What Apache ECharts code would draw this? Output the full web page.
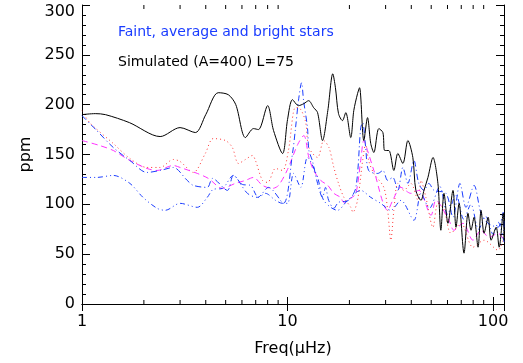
<!DOCTYPE html>
<html>
<head>
<meta charset="utf-8">
<script src="https://cdn.jsdelivr.net/npm/echarts@6/dist/echarts.min.js"></script>
<style>
  html, body { margin: 0; padding: 0; background: #fff; }
  #chart { width: 523px; height: 363px; }
</style>
</head>
<body>
<div id="chart"></div>
<script>
// minor tick positions on the log frequency axis
var minorX = [2, 3, 4, 5, 6, 7, 8, 9, 20, 30, 40, 50, 60, 70, 80, 90];

// [freq (uHz), ppm]
var simulated = [[1,190],[1.16,191],[1.3,190],[1.7,182],[2.4,168],[3.0,177],[3.56,172],[4.0,190],[4.6,212],[5.15,210],[5.6,200],[6.24,167],[6.83,176],[7.22,175],[8.0,199],[8.55,174],[9.46,151],[10.0,185],[10.57,205],[11.3,199],[12.0,201],[12.66,204],[13.4,197],[14.0,192],[14.8,164],[15.7,194],[16.6,231],[17.1,217],[17.7,191],[18.5,184],[19.2,192],[20.3,167],[21.0,194],[21.9,211],[22.4,217],[23.5,164],[24.5,187],[25.4,161],[26.3,152],[27.8,176],[29.1,172],[29.7,154],[31.1,154],[32.9,134],[34.4,151],[36.4,141],[38.5,164],[40.7,147],[42.1,114],[44.6,104],[46.1,114],[48.2,127],[51.0,147],[53.9,121],[55.7,74],[57.7,111],[60.3,81],[63.8,114],[66,77],[68.3,101],[72.2,51],[75.5,91],[78.1,74],[80.8,87],[84.5,57],[87.4,94],[90.4,71],[94.6,87],[97.8,64],[103.5,77],[107,57],[112,91],[113,64]];

var faint = [[1,127],[1.18,127],[1.42,129],[1.71,121],[1.98,107],[2.32,96],[2.54,94],[3.0,101],[3.64,97],[4.07,107],[4.35,115],[4.82,116],[5.45,129],[6.03,120],[6.6,119],[7.22,107],[7.81,111],[8.74,104],[9.46,101],[10,101],[10.7,131],[11.6,117],[12.5,147],[14,127],[15,104],[17.5,94],[19.6,104],[22.7,114],[25.4,107],[28.4,101],[31.8,94],[35.6,104],[41.2,84],[44.6,111],[49,96],[55,118],[60,90],[66,110],[72,85],[78,100],[85,75],[92,88],[100,70],[106,82],[113,62]];

var average = [[1,164],[1.22,159],[1.42,154],[1.71,144],[2.07,136],[2.32,134],[2.78,139],[3.0,137],[3.64,131],[4.12,126],[4.82,116],[5.57,121],[6.24,124],[6.83,127],[7.55,119],[8.45,116],[9.04,119],[10,135],[11.2,160],[12,169],[12.7,147],[13.4,134],[14.5,124],[15.7,119],[16.8,111],[18.1,107],[18.8,102],[20.3,106],[21.5,111],[22.7,144],[23.5,164],[24.5,154],[26.3,134],[30.7,94],[32.5,104],[35.6,117],[39.8,111],[43.5,114],[49.9,89],[52.7,104],[61,84],[64.5,74],[71.4,81],[79.8,64],[87.4,74],[95.6,67],[105.7,71],[113,64]];

var bright = [[1,189],[1.18,174],[1.42,157],[1.71,144],[2.07,132],[2.4,134],[2.78,137],[3.25,124],[3.48,119],[4.07,117],[4.31,126],[5.1,114],[5.45,129],[6.38,111],[7.14,107],[8.08,117],[9.55,101],[10.57,151],[10.94,177],[11.3,204],[11.7,222],[11.97,204],[12.5,177],[12.7,154],[13.2,144],[14,121],[14.8,107],[15.3,117],[15.85,104],[16.8,96],[17.7,102],[19.8,104],[21.5,117],[22.7,177],[23.2,182],[24,157],[24.8,134],[27.5,131],[29.1,134],[30.7,124],[32.5,127],[34.4,114],[36.4,137],[38.5,121],[41.2,144],[43.5,121],[46.1,114],[48.7,121],[51.6,114],[59,111],[63.8,87],[69,121],[73.8,97],[80.8,119],[87.4,91],[94.6,81],[105.7,77],[112,92],[113,70]];

var model = [[1,194],[1.09,182],[1.42,161],[1.71,146],[2.07,137],[2.4,137],[2.78,145],[3.0,143],[3.48,132],[3.98,151],[4.35,166],[4.99,164],[5.39,157],[5.77,141],[6.24,145],[6.75,149],[6.98,144],[7.55,124],[8.0,122],[8.74,136],[9.46,134],[10.1,154],[10.9,197],[11.3,197],[12.2,184],[12.7,157],[14,147],[15,164],[15.9,157],[16.8,137],[17.7,121],[18.8,107],[20.3,97],[20.8,92],[21.9,104],[23.2,144],[24,161],[24.8,144],[26.3,131],[29.4,117],[30.7,94],[31.8,64],[32.9,94],[34.4,121],[36.8,114],[39.8,121],[43.1,104],[44.6,124],[47.1,107],[51,77],[53.9,101],[57.7,95],[62.4,71],[69.8,81],[79.8,57],[90.4,64],[105.7,54],[113,67]];

var font = 'DejaVu Sans';
var chart = echarts.init(document.getElementById('chart'));

function xAx(pos, labels) {
  return {
    type: 'log', logBase: 10, min: 1, max: 113, position: pos,
    axisLine: { show: true, lineStyle: { color: '#000', width: 1 } },
    axisTick: { show: true, inside: true, length: 7, lineStyle: { color: '#000' } },
    splitLine: { show: false },
    axisLabel: { show: labels, color: '#000', fontFamily: font, fontSize: 16, margin: 10, showMaxLabel: false },
    name: labels ? 'Freq(\u03bcHz)' : '', nameLocation: 'middle', nameGap: 37,
    nameTextStyle: { color: '#000', fontFamily: font, fontSize: 16 }
  };
}
function yAx(pos, labels) {
  return {
    type: 'value', min: 0, max: 300, interval: 50, position: pos,
    axisLine: { show: true, lineStyle: { color: '#000', width: 1 } },
    axisTick: { show: true, inside: true, length: 8, lineStyle: { color: '#000' } },
    minorTick: { show: true, splitNumber: 5, length: 4, lineStyle: { color: '#000' } },
    splitLine: { show: false },
    axisLabel: {
      show: labels, color: '#000', fontFamily: font, fontSize: 16, margin: 7,
      formatter: function (v) { return v === 300 ? '{t|300}' : String(v); },
      rich: { t: { fontFamily: font, fontSize: 16, color: '#000', padding: [14, 0, 0, 0] } }
    },
    name: labels ? 'ppm' : '', nameLocation: 'middle', nameGap: 42,
    nameTextStyle: { color: '#000', fontFamily: font, fontSize: 16 }
  };
}
function line(name, data, color, dash) {
  return {
    name: name, type: 'line', data: data, showSymbol: false, smooth: 0.3,
    lineStyle: { color: color, width: 1, type: dash }, z: 3
  };
}

chart.setOption({
  animation: false,
  grid: { left: 82, right: 19, top: 5, bottom: 59 },
  xAxis: [xAx('bottom', true), xAx('top', false)],
  yAxis: [yAx('left', true), yAx('right', false)],
  graphic: [
    { type: 'text', left: 118, top: 25, style: { text: 'Faint, average and bright stars', fill: '#1a3cff', font: '14px "DejaVu Sans"' } },
    { type: 'text', left: 118, top: 55, style: { text: 'Simulated (A=400) L=75', fill: '#000', font: '14px "DejaVu Sans"' } }
  ],
  series: [
    line('model', model, '#ff3030', [1, 3]),
    line('average', average, '#ff30ff', [6, 4]),
    line('bright', bright, '#1a3cff', [6, 3, 1, 3]),
    line('faint', faint, '#1a3cff', [5, 3, 1, 3, 1, 3]),
    line('simulated', simulated, '#000', 'solid'),
    {
      type: 'custom', silent: true, clip: false, z: 10,
      data: minorX.map(function (v) { return [v, 0]; }),
      renderItem: function (params, api) {
        var b = api.coord([api.value(0), 0]);
        var t = api.coord([api.value(0), 300]);
        return {
          type: 'group', children: [
            { type: 'line', shape: { x1: b[0], y1: b[1], x2: b[0], y2: b[1] - 4 }, style: { stroke: '#000', lineWidth: 1 } },
            { type: 'line', shape: { x1: t[0], y1: t[1], x2: t[0], y2: t[1] + 4 }, style: { stroke: '#000', lineWidth: 1 } }
          ]
        };
      }
    }
  ]
});
</script>
</body>
</html>
